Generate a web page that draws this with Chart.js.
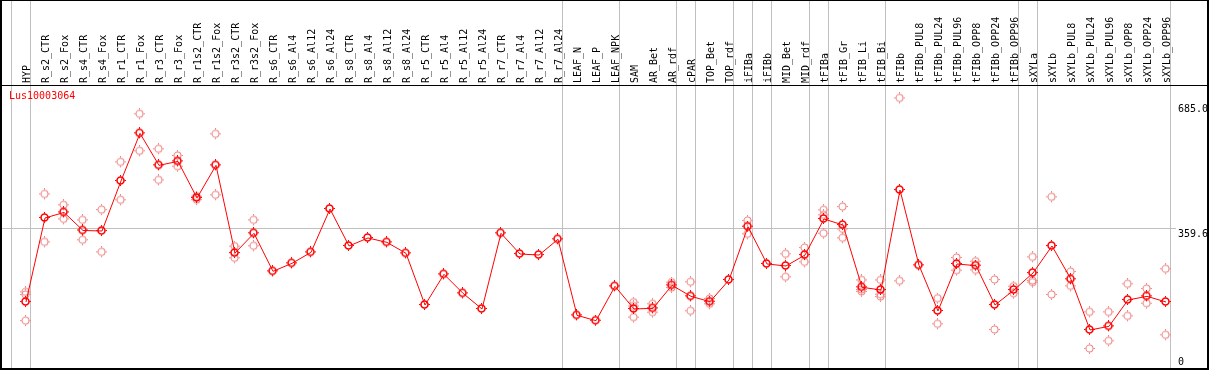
<!DOCTYPE html>
<html><head><meta charset="utf-8">
<script src="https://cdn.jsdelivr.net/npm/chart.js@4.4.1/dist/chart.umd.min.js"></script>
<style>html,body{margin:0;padding:0;background:#fff;overflow:hidden}#wrap{width:1209px;height:370px;position:relative}</style>
</head><body><div id="wrap"><canvas id="c" width="1209" height="370"></canvas></div>
<script>
const geneName = 'Lus10003064';
const categories = ['HYP','R_s2_CTR','R_s2_Fox','R_s4_CTR','R_s4_Fox','R_r1_CTR','R_r1_Fox','R_r3_CTR','R_r3_Fox','R_r1s2_CTR','R_r1s2_Fox','R_r3s2_CTR','R_r3s2_Fox','R_s6_CTR','R_s6_Al4','R_s6_Al12','R_s6_Al24','R_s8_CTR','R_s8_Al4','R_s8_Al12','R_s8_Al24','R_r5_CTR','R_r5_Al4','R_r5_Al12','R_r5_Al24','R_r7_CTR','R_r7_Al4','R_r7_Al12','R_r7_Al24','LEAF_N','LEAF_P','LEAF_NPK','SAM','AR_Bet','AR_rdf','cPAR','TOP_Bet','TOP_rdf','iFIBa','iFIBb','MID_Bet','MID_rdf','tFIBa','tFIB_Gr','tFIB_Li','tFIB_Bi','tFIBb','tFIBb_PUL8','tFIBb_PUL24','tFIBb_PUL96','tFIBb_OPP8','tFIBb_OPP24','tFIBb_OPP96','sXYLa','sXYLb','sXYLb_PUL8','sXYLb_PUL24','sXYLb_PUL96','sXYLb_OPP8','sXYLb_OPP24','sXYLb_OPP96'];
const meanValues = [166.7,385.5,400,353,351.6,482,606,522.6,533,437.6,522.6,294.3,345.6,246.6,267.4,296,409,312.6,333.4,322,293.5,158.9,238.8,189.3,148.5,345.6,291.7,289,330,132,118,207.5,148.5,150.2,210,181.5,167.5,224,362.9,265.7,260.5,289,382.9,367.2,205,198,458.4,262.2,143.3,265.7,261.3,158.9,198,242.2,312.6,225.8,93.8,103.3,171.9,181.5,166.7];
const replicateValues = [
  [192,185,117],[447,322],[418.5,382],[379.4,327.4],[406,296],[530.5,431.6],[655.6,559.2],[564.4,483.6],[547,519],[432,441],[603.5,444.6],[310.8,280.5],[379.4,311.8],
  [],[],[],[],[],[],[],[],[],[],[],[],[],[],[],[],[],[],[],
  [165,155,126],[160.7,138.9],[217,203],[218,142.5],[174.5,160.7],[],[377.7,343],[],[291,231],[307.3,270],[405.5,392.5,344.6],[414,356,332.6],[223,198,193],[223,185.7,179.7],[697,220.6],
  [],[175.4,108.7],[281.3,248.3],[271.7,249.2],[224,93.8],[206.6,188.3],[283,221.4,217],[439.4,185],[244.8,207.5],[139.8,44.3],[139.8,64.3],[212.8,129.4],[200.5,162.3],[251.9,80]
];
const yTickValues = [0, 359.6, 685.0];
const yTickLabels = ['0', '359.6', '685.0'];
const gridValue = 359.6;
const separatorsAfter = [-1,0,28,31,34,35,37,38,39,41,42,45,52,53,60];

function makeMarker(color, lw) {
  const c = document.createElement('canvas');
  c.width = 12; c.height = 12;
  const g = c.getContext('2d');
  g.strokeStyle = color; g.lineWidth = lw;
  g.beginPath(); g.arc(5.5, 5.5, 3.5, 0, Math.PI * 2); g.stroke();
  g.fillStyle = color;
  g.fillRect(5, 0, 1, 1.5);
  g.fillRect(5, 9.5, 1, 1.5);
  g.fillRect(0, 5, 1.5, 1);
  g.fillRect(9.5, 5, 1.5, 1);
  return c;
}
const mainMarker = makeMarker('#ff0000', 1.6);
const repMarker = makeMarker('rgb(238,135,135)', 1.1);

const meanPoints = meanValues.map((v, i) => ({x: i, y: v}));
const repPoints = [];
replicateValues.forEach((arr, i) => arr.forEach(v => repPoints.push({x: i, y: v})));

const FONT = '10px "DejaVu Sans Mono", "Liberation Mono", monospace';

const decor = {
  id: 'decor',
  beforeDatasetsDraw(chart) {
    const ctx = chart.ctx, xs = chart.scales.x, ys = chart.scales.y;
    const W = chart.width, H = chart.height, ca = chart.chartArea;
    ctx.save();
    ctx.strokeStyle = '#c0c0c0'; ctx.lineWidth = 1;
    ctx.beginPath();
    separatorsAfter.forEach(i => {
      const x = Math.round(xs.getPixelForValue(i)) + 4 + 0.5;
      ctx.moveTo(x, 0); ctx.lineTo(x, H);
    });
    const gy = Math.round(ys.getPixelForValue(gridValue)) + 0.5;
    ctx.moveTo(0, gy); ctx.lineTo(1176, gy);
    ctx.stroke();
    ctx.fillStyle = '#000';
    ctx.fillRect(0, 85, W, 1);
    ctx.font = FONT; ctx.fillStyle = '#000';
    ctx.textAlign = 'left'; ctx.textBaseline = 'alphabetic';
    categories.forEach((lab, i) => {
      const x = xs.getPixelForValue(i);
      ctx.save();
      ctx.translate(x + 3.5, 83);
      ctx.rotate(-Math.PI / 2);
      ctx.fillText(lab, 0, 0);
      ctx.restore();
    });
    ctx.fillStyle = '#ff0000';
    ctx.textBaseline = 'top';
    ctx.fillText(geneName, 9, 91);
    ctx.fillStyle = '#000';
    yTickValues.forEach((v, k) => {
      let y = ys.getPixelForValue(v);
      if (y > ca.bottom - 12) { ctx.textBaseline = 'bottom'; y = ca.bottom - 1; }
      else { ctx.textBaseline = 'top'; y = y + 1; }
      ctx.fillText(yTickLabels[k], 1178, y);
    });
    ctx.restore();
  },
  afterDraw(chart) {
    const ctx = chart.ctx, W = chart.width, H = chart.height;
    ctx.save();
    ctx.fillStyle = '#000';
    ctx.fillRect(0, 0, W, 1);
    ctx.fillRect(0, 0, 2, H);
    ctx.fillRect(0, H - 2, W, 2);
    ctx.fillRect(W - 2, 0, 2, H);
    ctx.restore();
  }
};

new Chart(document.getElementById('c'), {
  type: 'line',
  data: {
    datasets: [
      {data: meanPoints, borderColor: '#ff0000', borderWidth: 1, tension: 0, fill: false,
       pointStyle: mainMarker, pointRadius: 5, pointHoverRadius: 5, clip: false},
      {data: repPoints, showLine: false, pointStyle: repMarker, pointRadius: 5, pointHoverRadius: 5, clip: false}
    ]
  },
  options: {
    responsive: false, animation: false, devicePixelRatio: 1,
    layout: {autoPadding: false, padding: {left: 1, right: 39, top: 86, bottom: 2}},
    scales: {
      x: {type: 'linear', min: -25/19, max: 60 + 4/19, display: false},
      y: {type: 'linear', min: -5.21, max: 729.28, display: false}
    },
    plugins: {legend: {display: false}, tooltip: {enabled: false}},
    events: []
  },
  plugins: [decor]
});
</script></body></html>
